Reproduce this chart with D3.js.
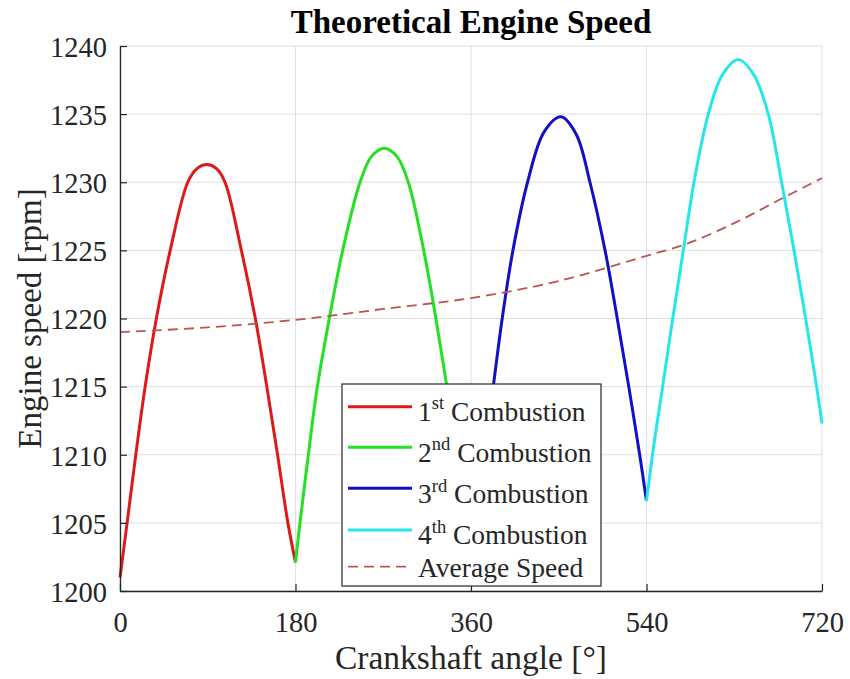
<!DOCTYPE html>
<html>
<head>
<meta charset="utf-8">
<script src="https://cdn.jsdelivr.net/npm/d3@7/dist/d3.min.js"></script>
<style>
  html, body { margin: 0; padding: 0; background: #fff; }
  svg { display: block; font-family: "Liberation Serif", "Times New Roman", serif; }
</style>
</head>
<body>
<svg id="chart" width="850" height="679"></svg>
<script>
// Crankshaft angle [deg] and engine speed [rpm] for each combustion stroke
const angle1 = [0, 7.3, 16.2, 25.8, 37.3, 51.5, 69.5, 79, 89, 99, 107.7, 124.5, 138.8, 150.6, 161.6, 172.2, 180];
const speed1 = [1201.0, 1205, 1210, 1215, 1220, 1225, 1230, 1231.0, 1231.3, 1231.0, 1230, 1225, 1220, 1215, 1210, 1205, 1202.1];

const angle2 = [180, 184.6, 193.2, 202.4, 214.7, 228.4, 246.2, 258, 271, 284, 295.7, 311.5, 324, 335.3, 345.6, 355.4, 360];
const speed2 = [1202.1, 1205, 1210, 1215, 1220, 1225, 1230, 1231.9, 1232.5, 1231.9, 1230, 1225, 1220, 1215, 1210, 1205, 1202.8];

const angle3 = [360, 371, 382.8, 392, 403, 418, 435, 452.3, 468, 482, 497.5, 510, 521.8, 533, 540];
const speed3 = [1202.8, 1208.7, 1215, 1220, 1225, 1230, 1233.7, 1234.8, 1233.5, 1230, 1225, 1220, 1215, 1210, 1206.6];

const angle4 = [540, 547.5, 556.6, 566.9, 577.8, 588.7, 603.4, 618, 634.2, 650, 664.9, 678.6, 691.3, 703.2, 714.5, 720];
const speed4 = [1206.6, 1210.7, 1215, 1220, 1225, 1230, 1235, 1237.9, 1239.0, 1237.9, 1235, 1230, 1225, 1220, 1215, 1212.3];

// Mean engine speed over the cycle
const avgAngle = [0, 90, 180, 270, 360, 450, 540, 580, 630, 680, 720];
const avgSpeed = [1219.0, 1219.35, 1219.9, 1220.7, 1221.5, 1222.75, 1224.6, 1225.45, 1227.0, 1228.85, 1230.3];

const xTicks = [0, 180, 360, 540, 720];
const yTicks = [1200, 1205, 1210, 1215, 1220, 1225, 1230, 1235, 1240];

const seriesOrdinals = ["1", "2", "3", "4"];
const seriesSuffixes = ["st", "nd", "rd", "th"];
const seriesColors = ["#dc1a1a", "#22e022", "#1010c4", "#26e6e6"];
const avgColor = "#bb5450";

const titleText = "Theoretical Engine Speed";
const xLabelText = "Crankshaft angle [°]";
const yLabelText = "Engine speed [rpm]";

// Layout
const plot = { left: 120, right: 822, top: 46, bottom: 591 };

const svg = d3.select("#chart");

const x = d3.scaleLinear().domain([0, 720]).range([plot.left, plot.right]);
const y = d3.scaleLinear().domain([1200, 1240]).range([plot.bottom, plot.top]);

// Grid
const grid = svg.append("g");
grid.selectAll("line.h").data(yTicks).join("line")
  .attr("x1", plot.left).attr("x2", plot.right)
  .attr("y1", d => y(d)).attr("y2", d => y(d))
  .attr("stroke", "#dfdfdf").attr("stroke-width", 1);
grid.selectAll("line.v").data(xTicks).join("line")
  .attr("y1", plot.top).attr("y2", plot.bottom)
  .attr("x1", d => x(d)).attr("x2", d => x(d))
  .attr("stroke", "#dfdfdf").attr("stroke-width", 1);

// Series
const lineGen = d3.line()
  .x(d => x(d[0])).y(d => y(d[1]))
  .curve(d3.curveCatmullRom.alpha(0.5));

const combustions = [
  [angle1, speed1],
  [angle2, speed2],
  [angle3, speed3],
  [angle4, speed4]
];

const plotG = svg.append("g");
combustions.forEach(([a, s], i) => {
  plotG.append("path")
    .datum(a.map((v, k) => [v, s[k]]))
    .attr("d", lineGen)
    .attr("fill", "none")
    .attr("stroke", seriesColors[i])
    .attr("stroke-width", 3)
    .attr("stroke-linejoin", "round");
});

plotG.append("path")
  .datum(avgAngle.map((v, k) => [v, avgSpeed[k]]))
  .attr("d", lineGen)
  .attr("fill", "none")
  .attr("stroke", avgColor)
  .attr("stroke-width", 1.8)
  .attr("stroke-dasharray", "10,6");

// Axes (left and bottom, ticks pointing inward)
const axisColor = "#262626";
const yAxis = d3.axisLeft(y).tickValues(yTicks).tickSizeInner(-7).tickSizeOuter(0).tickPadding(13)
  .tickFormat(d3.format("d"));
const xAxis = d3.axisBottom(x).tickValues(xTicks).tickSizeInner(-7).tickSizeOuter(0).tickPadding(21)
  .tickFormat(d3.format("d"));

const gy = svg.append("g").attr("transform", `translate(${plot.left},0)`).call(yAxis);
const gx = svg.append("g").attr("transform", `translate(0,${plot.bottom})`).call(xAxis);
[gx, gy].forEach(g => {
  g.select(".domain").attr("stroke", axisColor).attr("stroke-width", 1.3);
  g.selectAll(".tick line").attr("stroke", axisColor).attr("stroke-width", 1.2);
  g.selectAll(".tick text")
    .attr("fill", "#262626")
    .style("font-family", "'Liberation Serif', 'Times New Roman', serif")
    .style("font-size", "28.5px");
});
gy.selectAll(".tick text").attr("dy", "0.36em");

// Title and axis labels
svg.append("text")
  .attr("x", (plot.left + plot.right) / 2).attr("y", 33)
  .attr("text-anchor", "middle")
  .style("font-size", "33px").style("font-weight", "bold")
  .attr("fill", "#000")
  .text(titleText);

svg.append("text")
  .attr("x", (plot.left + plot.right) / 2).attr("y", 669)
  .attr("text-anchor", "middle")
  .style("font-size", "33.5px")
  .attr("fill", "#262626")
  .text(xLabelText);

svg.append("text")
  .attr("transform", `translate(41,${(plot.top + plot.bottom) / 2}) rotate(-90)`)
  .attr("text-anchor", "middle")
  .style("font-size", "33px")
  .attr("fill", "#262626")
  .text(yLabelText);

// Legend
const legend = svg.append("g");
const box = { x: 342, y: 384, w: 259, h: 202 };
legend.append("rect")
  .attr("x", box.x).attr("y", box.y).attr("width", box.w).attr("height", box.h)
  .attr("fill", "#fff").attr("stroke", "#262626").attr("stroke-width", 1.2);

const rowLineY = [406.7, 447.3, 488.3, 530, 566.7];
const rowBaseY = [420.7, 461.7, 503.3, 544, 576.7];
const sampleX1 = 348, sampleX2 = 412, textX = 418;

seriesOrdinals.forEach((ord, i) => {
  legend.append("line")
    .attr("x1", sampleX1).attr("x2", sampleX2)
    .attr("y1", rowLineY[i]).attr("y2", rowLineY[i])
    .attr("stroke", seriesColors[i]).attr("stroke-width", 3);
  const t = legend.append("text")
    .attr("x", textX).attr("y", rowBaseY[i])
    .attr("fill", "#262626")
    .style("font-size", "27.5px");
  t.append("tspan").text(ord);
  t.append("tspan").attr("dy", -11.5).style("font-size", "18.5px").text(seriesSuffixes[i]);
  t.append("tspan").attr("dy", 11.5).text(" Combustion");
});

legend.append("line")
  .attr("x1", sampleX1).attr("x2", sampleX2)
  .attr("y1", rowLineY[4]).attr("y2", rowLineY[4])
  .attr("stroke", avgColor).attr("stroke-width", 1.8)
  .attr("stroke-dasharray", "10,6");
legend.append("text")
  .attr("x", textX).attr("y", rowBaseY[4])
  .attr("fill", "#262626")
  .style("font-size", "27.5px")
  .text("Average Speed");
</script>
</body>
</html>
